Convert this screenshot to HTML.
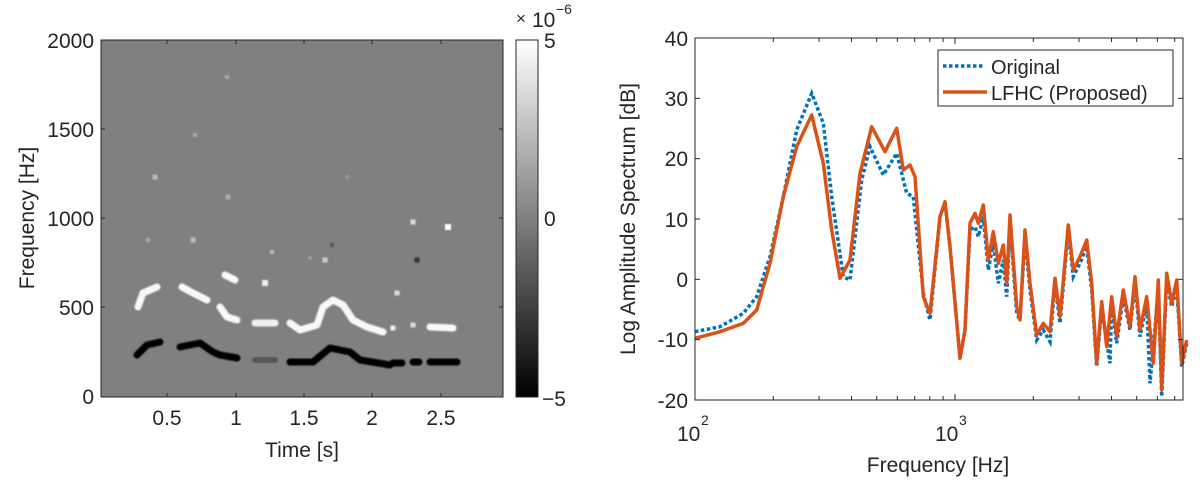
<!DOCTYPE html>
<html><head><meta charset="utf-8"><style>
body{margin:0;background:#fff;}
svg text{font-family:"Liberation Sans","Noto Sans CJK JP",sans-serif;fill:#262626;}
</style></head><body>
<svg id="s" width="1200" height="484" xmlns="http://www.w3.org/2000/svg">
<defs>
<linearGradient id="cb" x1="0" y1="1" x2="0" y2="0"><stop offset="0" stop-color="#000"/><stop offset="1" stop-color="#fff"/></linearGradient>
<filter id="bl"><feGaussianBlur stdDeviation="0.8"/></filter>
</defs>
<rect x="101" y="40" width="402" height="357" fill="#808080"/>
<g id="spec" filter="url(#bl)" fill="none" stroke-linejoin="round" stroke-linecap="round"></g>
<rect x="101" y="40" width="402" height="357" fill="none" stroke="#262626" stroke-width="1"/>
<g id="lt" stroke="#262626" stroke-width="1"></g>
<rect x="516" y="40" width="22" height="357" fill="url(#cb)" stroke="#262626" stroke-width="1"/>
<g font-size="21">
<text x="94" y="48" text-anchor="end">2000</text>
<text x="94" y="137" text-anchor="end">1500</text>
<text x="94" y="226" text-anchor="end">1000</text>
<text x="94" y="315" text-anchor="end">500</text>
<text x="94" y="404" text-anchor="end">0</text>
<text x="167" y="425" text-anchor="middle">0.5</text>
<text x="236" y="425" text-anchor="middle">1</text>
<text x="304" y="425" text-anchor="middle">1.5</text>
<text x="372" y="425" text-anchor="middle">2</text>
<text x="441" y="425" text-anchor="middle">2.5</text>
<text x="302" y="457" text-anchor="middle">Time [s]</text>
<text transform="translate(34,218) rotate(-90)" text-anchor="middle">Frequency [Hz]</text>
<text x="544" y="48">5</text>
<text x="544" y="226">0</text>
<text x="542" y="406">−5</text>
<text x="516" y="24" font-size="17">×</text>
<text x="532" y="27">10</text>
<text x="556" y="14" font-size="14">−6</text>
</g>
<rect x="695" y="38" width="488" height="362" fill="#fff"/>
<g id="rc" fill="none"></g>
<rect x="695" y="38" width="488" height="362" fill="none" stroke="#262626" stroke-width="1"/>
<g id="rt" stroke="#262626" stroke-width="1"></g>
<g font-size="21">
<text x="688" y="46" text-anchor="end">40</text>
<text x="688" y="106" text-anchor="end">30</text>
<text x="688" y="166" text-anchor="end">20</text>
<text x="688" y="227" text-anchor="end">10</text>
<text x="688" y="287" text-anchor="end">0</text>
<text x="688" y="347" text-anchor="end">-10</text>
<text x="688" y="408" text-anchor="end">-20</text>
<text x="677" y="441">10</text><text x="701" y="425" font-size="14">2</text>
<text x="935" y="441">10</text><text x="959" y="425" font-size="14">3</text>
<text x="938" y="472" text-anchor="middle">Frequency [Hz]</text>
<text transform="translate(635,219) rotate(-90)" text-anchor="middle">Log Amplitude Spectrum [dB]</text>
</g>
<rect x="938" y="50" width="235" height="56" fill="#fff" stroke="#262626" stroke-width="1"/>
<line x1="943" y1="66" x2="985" y2="66" stroke="#0072bd" stroke-width="3.5" stroke-dasharray="3.5,2.5"/>
<line x1="943" y1="92" x2="987" y2="92" stroke="#d95319" stroke-width="3.5"/>
<text x="991" y="74" font-size="20">Original</text>
<text x="991" y="100" font-size="20">LFHC (Proposed)</text>
</svg>
<script>
const NS="http://www.w3.org/2000/svg";
function el(p,t,a){const e=document.createElementNS(NS,t);for(const k in a)e.setAttribute(k,a[k]);p.appendChild(e);return e;}
const spec=document.getElementById('spec');
const blk=[[[137,355],[147,345],[160,342]],[[180,347],[200,343],[213,352],[220,355],[237,358]],[[290,362],[313,362],[330,348],[350,352],[360,360],[390,365]],[[393,363],[402,363]],[[413,362],[419,362]],[[430,362],[457,362]]];
const wht=[[[138,307],[143,293],[157,287]],[[182,287],[193,293],[207,300]],[[220,307],[227,317],[237,320]],[[225,275],[235,280]],[[290,323],[300,330],[317,325],[323,307],[333,300],[343,305],[353,320],[367,327],[383,332]],[[430,327],[453,328]]];
blk.forEach(p=>el(spec,'polyline',{points:p.join(' '),stroke:'#050505','stroke-width':7}));
el(spec,'polyline',{points:'255,360 275,360',stroke:'#555','stroke-width':6});
wht.forEach(p=>el(spec,'polyline',{points:p.join(' '),stroke:'#f8f8f8','stroke-width':7}));
el(spec,'polyline',{points:'255,323 275,323',stroke:'#f0f0f0','stroke-width':7});
[[265,283,6,'#eee'],[393,328,5,'#eee'],[397,293,5,'#ddd'],[413,325,5,'#ddd'],[448,227,6,'#fff'],[413,222,5,'#ddd'],[417,260,5,'#333'],[155,177,5,'#bbb'],[193,240,5,'#bbb'],[227,77,4,'#aaa'],[228,197,5,'#aaa'],[195,135,4,'#aaa'],[347,177,4,'#999'],[325,260,5,'#ccc'],[148,240,4,'#aaa'],[332,245,4,'#555'],[272,252,4,'#bbb'],[310,258,3,'#aaa']].forEach(d=>el(spec,'rect',{x:d[0]-d[2]/2,y:d[1]-d[2]/2,width:d[2],height:d[2],fill:d[3],stroke:'none'}));
const lt=document.getElementById('lt');
[167,236,304,372,441].forEach(x=>{el(lt,'line',{x1:x,y1:397,x2:x,y2:393});el(lt,'line',{x1:x,y1:40,x2:x,y2:44});});
[40,129,218,307,397].forEach(y=>{el(lt,'line',{x1:101,y1:y,x2:105,y2:y});el(lt,'line',{x1:503,y1:y,x2:499,y2:y});});
const rt=document.getElementById('rt');
const X=f=>695+260*(Math.log10(f)-2);
for(let d=100;d<=1000;d*=10)for(let m=1;m<10;m++){const f=d*m;if(f>7100)break;const x=X(f),L=(m==1)?6:4;el(rt,'line',{x1:x,y1:400,x2:x,y2:400-L});el(rt,'line',{x1:x,y1:38,x2:x,y2:38+L});}
for(let i=0;i<=6;i++){const y=38+i*60.33;el(rt,'line',{x1:695,y1:y,x2:700,y2:y});el(rt,'line',{x1:1183,y1:y,x2:1178,y2:y});}
const o=[[45,925],[120,905],[190,880],[230,840],[270,700],[310,500],[350,350],[395,255],[430,400],[455,600],[480,745],[510,690],[540,430],[575,290],[615,365],[650,295],[670,420],[690,405],[705,440],[730,800],[750,850],[780,560],[795,515],[810,650],[840,985],[855,900],[870,580],[885,550],[895,580],[910,525],[925,690],[940,605],[955,700],[970,645],[980,760],[990,555],[1010,830],[1020,870],[1035,600],[1050,760],[1070,915],[1090,880],[1110,905],[1125,745],[1140,860],[1165,585],[1180,720],[1200,680],[1220,630],[1235,760],[1250,1000],[1265,815],[1280,950],[1295,800],[1310,920],[1330,780],[1350,890],[1365,740],[1380,900],[1400,800],[1420,1000],[1435,750],[1445,1080],[1460,730],[1475,820],[1490,750],[1505,1000],[1520,930]];
const b=[[45,905],[120,890],[190,850],[230,800],[270,680],[310,500],[350,300],[395,190],[430,280],[455,500],[490,740],[510,750],[545,450],[570,350],[610,435],[650,370],[680,490],[700,500],[730,790],[750,870],[780,560],[795,520],[810,650],[840,985],[855,900],[870,600],[885,590],[895,620],[910,560],[925,720],[940,640],[955,760],[970,690],[980,800],[990,580],[1010,850],[1020,870],[1035,620],[1050,780],[1070,930],[1090,900],[1110,935],[1125,760],[1140,880],[1165,600],[1180,740],[1200,700],[1220,650],[1235,780],[1250,1010],[1265,830],[1290,1000],[1295,820],[1310,940],[1330,800],[1350,900],[1365,760],[1380,920],[1400,820],[1410,1060],[1435,780],[1445,1100],[1460,750],[1475,830],[1490,770],[1505,1010],[1520,940]];
const cv=p=>p.map(q=>[(680+q[0]/3).toFixed(1),(30+q[1]/3).toFixed(1)].join(',')).join(' ');
const rc=document.getElementById('rc');
el(rc,'polyline',{points:cv(b),stroke:'#0072bd','stroke-width':3.5,'stroke-dasharray':'3.5,2.5'});
el(rc,'polyline',{points:cv(o),stroke:'#d95319','stroke-width':3.5,'stroke-linejoin':'round'});
</script>
</body></html>
